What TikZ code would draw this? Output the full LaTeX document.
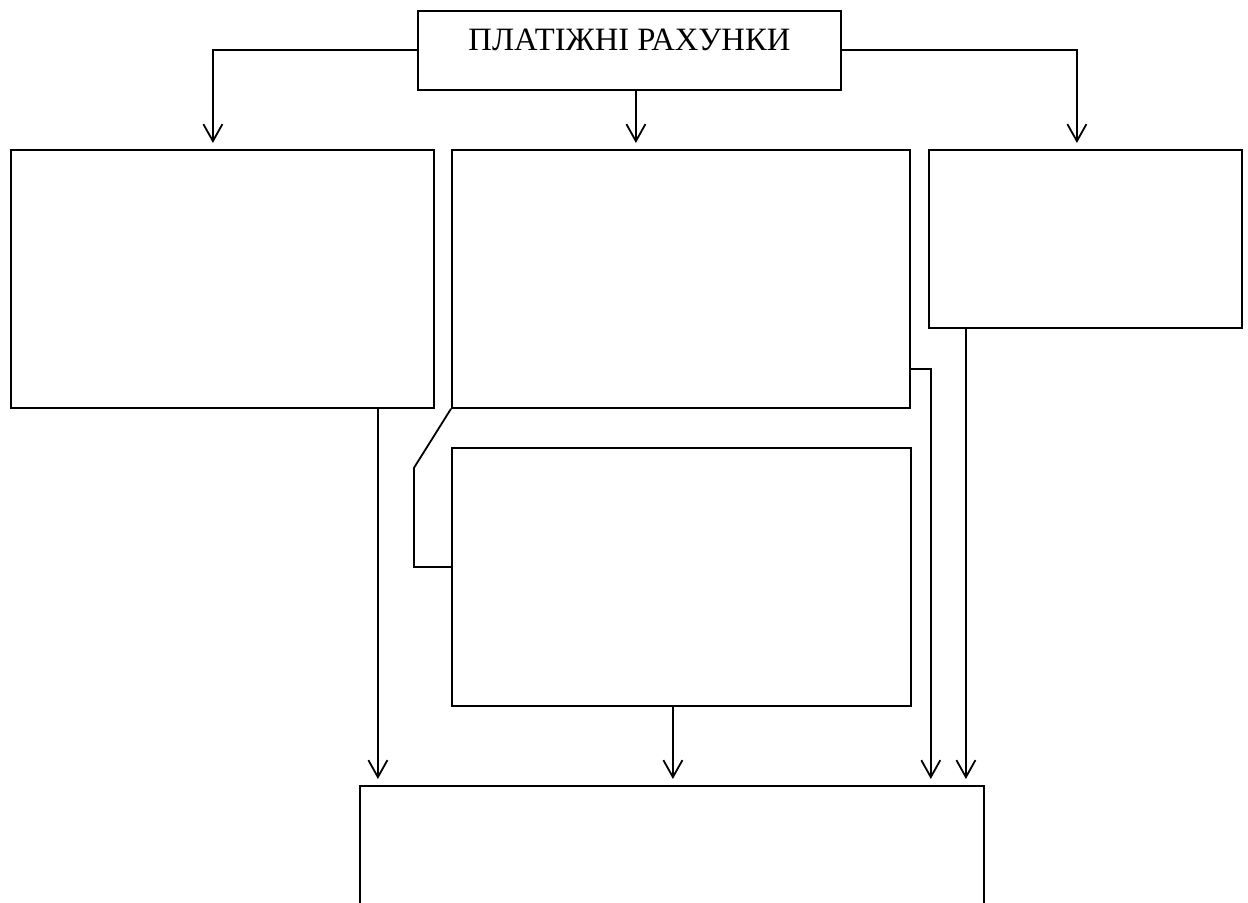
\documentclass[tikz,border=0pt]{standalone}
\usepackage{fontspec}
\setmainfont{Liberation Serif}
\usetikzlibrary{arrows.meta}
\tikzset{
  pbox/.style={draw, line width=0.9pt, inner sep=0pt, anchor=north west},
  parrow/.style={line width=0.9pt, -{Straight Barb[length=8.5pt,width=9.5pt]}, shorten >=3pt}
}

\begin{document}
\begin{tikzpicture}[x=0.5pt, y=-0.5pt]
			%%%%% START %%%%%
			
			\path[use as bounding box, clip] (0,0) rectangle (1248,903);
			
			\node[pbox, minimum width=211.5pt, minimum height=39.5pt, text height=20pt, text depth=19.5pt,
			  font=\fontsize{16.3pt}{19pt}\selectfont] (rahunky) at (417,10) {ПЛАТІЖНІ РАХУНКИ};
			
			\node[pbox, minimum width=211.5pt, minimum height=129pt] (livyi) at (10,149) {};
			\node[pbox, minimum width=229pt, minimum height=129pt] (serednii) at (451,149) {};
			\node[pbox, minimum width=156.5pt, minimum height=89pt] (pravyi) at (928,149) {};
			\node[pbox, minimum width=229.5pt, minimum height=129pt] (nyzhnii) at (451,447) {};
			\node[pbox, minimum width=312pt, minimum height=87.5pt] (pidsumok) at (359,785) {};
			
			\draw[parrow] (rahunky.west) -| ([xshift=-4.75pt]livyi.north);
			\draw[parrow] ([xshift=3.25pt]rahunky.south) -- ([xshift=3.25pt]rahunky.south |- serednii.north);
			\draw[parrow] (rahunky.east) -| ([xshift=-4.25pt]pravyi.north);
			
			\draw[line width=0.9pt] (serednii.south west) -- ++(-37,59) |- ([yshift=5pt]nyzhnii.west);
			
			\draw[parrow] ([xshift=77.75pt]livyi.south) -- ([xshift=77.75pt]livyi.south |- pidsumok.north);
			\draw[parrow] ([xshift=-4.25pt]nyzhnii.south) -- ([xshift=-4.25pt]nyzhnii.south |- pidsumok.north);
			\draw[parrow] ([yshift=-45pt]serednii.east) -| ([xshift=-27pt]pidsumok.north east);
			\draw[parrow] ([xshift=-59.75pt]pravyi.south) -- ([xshift=-59.75pt]pravyi.south |- pidsumok.north);
			
			%%%%% END %%%%%
\end{tikzpicture}
\end{document}
